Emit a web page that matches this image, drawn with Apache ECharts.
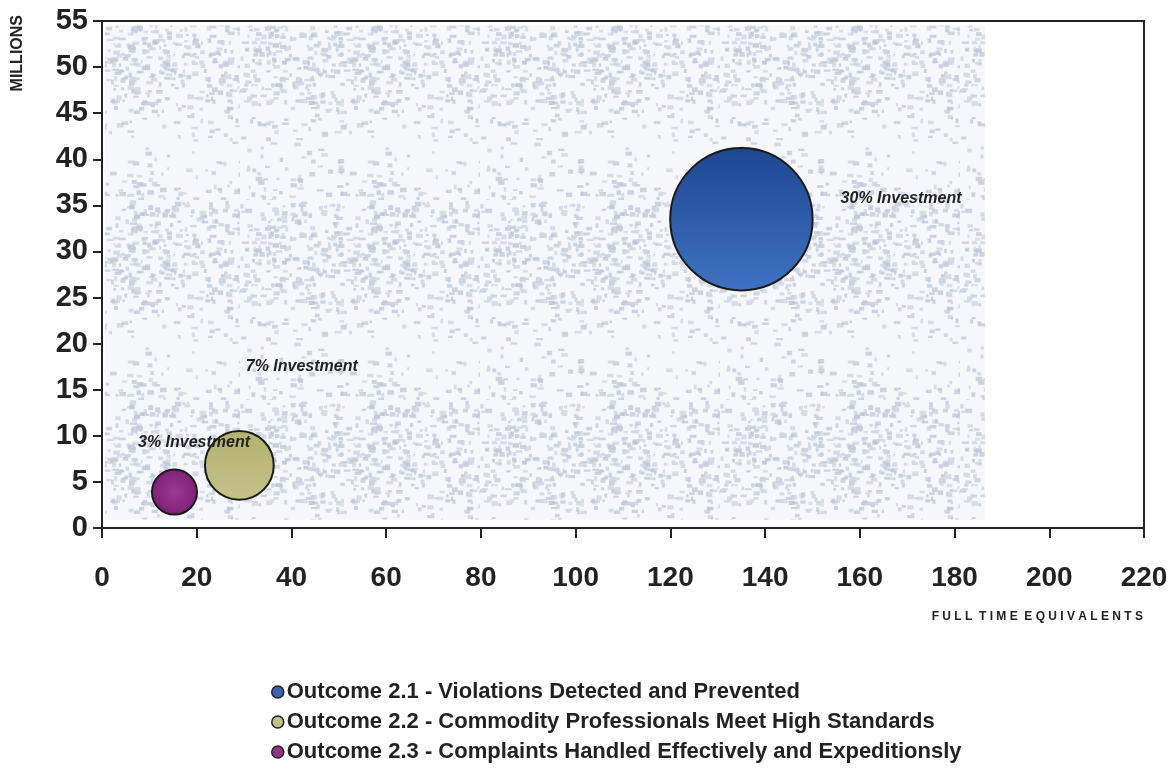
<!DOCTYPE html>
<html>
<head>
<meta charset="utf-8">
<script src="https://cdn.jsdelivr.net/npm/echarts@6/dist/echarts.min.js"></script>
<style>
  html, body { margin: 0; padding: 0; background: #fff; }
  #chart { width: 1175px; height: 778px; }
</style>
</head>
<body>
<div id="chart"></div>
<script>
// outcomes (series names)
var outcomes = [
  'Outcome 2.1 - Violations Detected and Prevented',
  'Outcome 2.2 - Commodity Professionals Meet High Standards',
  'Outcome 2.3 - Complaints Handled Effectively and Expeditionsly'
];
// full time equivalents (x), millions (y), investment share % (bubble size)
var fte = [135, 29, 15.3];
var millions = [33.5, 6.8, 3.9];
var investment = [30, 7, 3];
var investLabels = ['30% Investment', '7% Investment', '3% Investment'];

// where each label sits relative to its bubble (px)
var labelOffsets = [[27, -21], [-29, -99], [-60, -49]];

var fills = [
  { type: 'linear', x: 0, y: 0, x2: 0, y2: 1, colorStops: [
    { offset: 0, color: '#1d4690' }, { offset: 1, color: '#3f73c2' }] },
  { type: 'linear', x: 0, y: 0, x2: 0, y2: 1, colorStops: [
    { offset: 0, color: '#b3b272' }, { offset: 1, color: '#c4c288' }] },
  { type: 'radial', x: 0.5, y: 0.5, r: 0.5, colorStops: [
    { offset: 0, color: '#9a3a90' }, { offset: 1, color: '#7e2076' }] }
];
var legendColors = ['#3a62b0', '#c2c08a', '#8c3486'];

// speckled backdrop tile (decoration only, fixed seed)
function speckleTile() {
  var c = document.createElement('canvas');
  c.width = 240; c.height = 200;
  var ctx = c.getContext('2d');
  ctx.fillStyle = '#f6f7fa';
  ctx.fillRect(0, 0, 240, 200);
  var seed = 11;
  function rnd() { seed = (seed * 16807) % 2147483647; return seed / 2147483647; }
  for (var k = 0; k < 1400; k++) {
    var px = rnd() * 240, py = rnd() * 200;
    // denser in bands, sparse in between
    var band = Math.sin(py / 200 * Math.PI * 2);
    if (rnd() > 0.55 + 0.4 * band) continue;
    ctx.fillStyle = rnd() < 0.5 ? 'rgba(188,197,216,0.75)' : 'rgba(205,212,226,0.8)';
    ctx.fillRect(px, py, 2 + rnd() * 5, 2 + rnd() * 3);
  }
  return c;
}

var chart = echarts.init(document.getElementById('chart'));

var series = outcomes.map(function (name, i) {
  var s = {
    name: name,
    type: 'scatter',
    data: [[fte[i], millions[i], investment[i]]],
    symbolSize: function (d) { return Math.sqrt(d[2]) * 26; },
    itemStyle: { color: fills[i], borderColor: '#1a1a1a', borderWidth: 2, opacity: 1 },
    label: {
      show: true,
      position: 'right',
      distance: 0,
      offset: labelOffsets[i],
      formatter: investLabels[i],
      fontFamily: 'Liberation Sans',
      fontSize: 16,
      fontWeight: 'bold',
      fontStyle: 'italic',
      color: '#222'
    },
    emphasis: { disabled: true },
    z: 3
  };
  if (i === 0) {
    s.markArea = {
      silent: true,
      itemStyle: { color: { image: speckleTile(), repeat: 'repeat' } },
      data: [[{ xAxis: 0.6, yAxis: 0.9 }, { xAxis: 186.4, yAxis: 54.5 }]]
    };
  }
  return s;
});

var option = {
  animation: false,
  backgroundColor: '#fff',
  grid: {
    left: 102, right: 31, top: 21, bottom: 250,
    show: true, borderColor: '#222', borderWidth: 2, backgroundColor: 'transparent'
  },
  xAxis: {
    type: 'value',
    min: 0, max: 220, interval: 20,
    splitLine: { show: false },
    axisLine: { lineStyle: { color: '#222', width: 2 } },
    axisTick: { show: true, length: 10, lineStyle: { color: '#222', width: 2 } },
    axisLabel: {
      margin: 36,
      fontFamily: 'Liberation Sans', fontSize: 28, fontWeight: 'bold', color: '#222'
    }
  },
  yAxis: {
    type: 'value',
    min: 0, max: 55, interval: 5,
    splitLine: { show: false },
    axisLine: { show: true, lineStyle: { color: '#222', width: 2 } },
    axisTick: { show: true, length: 9, lineStyle: { color: '#222', width: 2 } },
    axisLabel: {
      margin: 14,
      fontFamily: 'Liberation Sans', fontSize: 29, fontWeight: 'bold', color: '#222'
    }
  },
  legend: {
    orient: 'vertical',
    left: 266, top: 676,
    itemWidth: 12, itemHeight: 12,
    itemGap: 8,
    icon: 'circle',
    selectedMode: false,
    data: outcomes.map(function (n, i) {
      return { name: n, itemStyle: { color: legendColors[i], borderColor: '#222', borderWidth: 1.5 } };
    }),
    textStyle: {
      fontFamily: 'Liberation Sans', fontSize: 22, fontWeight: 'bold', color: '#222', padding: [0, 0, 0, -2]
    }
  },
  graphic: [
    {
      type: 'text',
      left: 10, top: 15,
      rotation: Math.PI / 2,
      style: {
        text: 'MILLIONS',
        font: 'bold 16px "Liberation Sans"',
        fill: '#222'
      }
    },
    {
      type: 'text',
      right: 32, top: 611,
      style: {
        text: 'F U L L  T I M E  E Q U I V A L E N T S',
        font: 'bold 12px "Liberation Sans"',
        fill: '#222'
      }
    }
  ],
  series: series
};

chart.setOption(option);
</script>
</body>
</html>
